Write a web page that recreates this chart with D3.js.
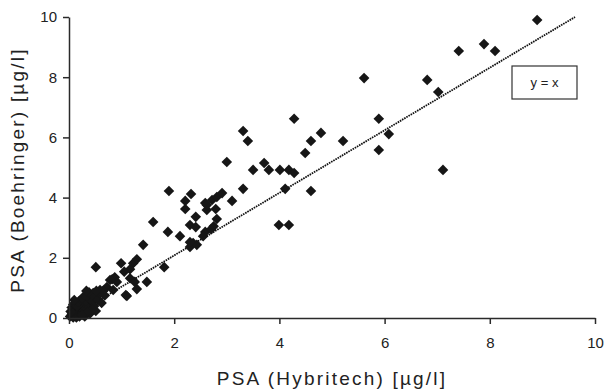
<!DOCTYPE html>
<html>
<head>
<meta charset="utf-8">
<script src="https://cdn.jsdelivr.net/npm/d3@7"></script>
<style>
  body { margin: 0; background: #fff; }
  svg { display: block; font-family: "Liberation Sans", Arial, sans-serif; }
</style>
</head>
<body>
<div id="chart"></div>
<script>
// PSA values measured with the Hybritech assay (x) and the Boehringer assay (y)
const hybritech = [
  8.90, 7.41, 7.89, 8.10, 7.02, 5.61, 6.81, 4.28, 5.89, 6.08, 5.89, 4.79, 4.60, 5.21, 4.49,
  3.71, 3.80, 4.01, 4.18, 4.28, 4.11, 4.60, 7.11, 3.99, 4.18, 3.31, 3.40, 3.00, 3.50, 3.31,
  3.10, 1.90, 2.32, 2.21, 2.21, 2.59, 2.72, 2.81, 2.91, 2.62, 2.79, 2.62, 2.41, 2.81, 1.60,
  2.30, 2.41, 2.59, 2.55, 2.36, 2.30, 2.43, 1.88, 2.11, 2.30, 1.41, 2.70, 2.75,
  0.51, 0.99, 1.22, 1.29, 1.16, 1.05, 1.81, 0.82, 0.87, 0.91, 1.16, 1.25, 1.48, 1.29, 1.10,
  0.72, 0.59, 0.46, 0.36, 0.27, 0.51, 0.30, 0.78, 0.84, 1.08,
  0.02, 0.05, 0.08, 0.10, 0.12, 0.15, 0.18, 0.20, 0.22, 0.25, 0.28, 0.30, 0.05, 0.08, 0.03,
  0.12, 0.15, 0.18, 0.22, 0.26, 0.32, 0.35, 0.38, 0.40, 0.42, 0.45, 0.48, 0.50, 0.55, 0.58,
  0.60, 0.62, 0.65, 0.40, 0.45, 0.35, 0.10, 0.06, 0.14, 0.20, 0.25, 0.38, 0.52, 0.68, 0.33
];
const boehringer = [
  9.90, 8.87, 9.10, 8.87, 7.51, 7.97, 7.91, 6.62, 6.62, 6.11, 5.58, 6.15, 5.88, 5.88, 5.48,
  5.15, 4.92, 4.92, 4.92, 4.82, 4.29, 4.22, 4.92, 3.09, 3.09, 6.21, 5.88, 5.18, 4.92, 4.29,
  3.89, 4.22, 4.12, 3.89, 3.62, 3.82, 3.92, 4.02, 4.15, 3.59, 3.62, 3.75, 3.36, 3.29, 3.19,
  3.09, 3.02, 2.86, 2.72, 2.49, 2.36, 2.43, 2.86, 2.72, 2.52, 2.43, 2.95, 3.05,
  1.69, 1.82, 1.82, 1.95, 1.62, 1.54, 1.69, 1.29, 1.35, 1.20, 1.32, 1.20, 1.20, 0.96, 0.73,
  1.03, 0.93, 0.83, 0.80, 0.70, 0.23, 0.60, 1.26, 0.93, 0.76,
  0.05, 0.10, 0.02, 0.15, 0.30, 0.08, 0.20, 0.35, 0.12, 0.45, 0.25, 0.05, 0.35, 0.45, 0.22,
  0.50, 0.40, 0.55, 0.60, 0.65, 0.70, 0.50, 0.35, 0.62, 0.75, 0.55, 0.40, 0.70, 0.60, 0.80,
  0.85, 0.50, 0.90, 0.15, 0.28, 0.20, 0.60, 0.15, 0.02, 0.05, 0.10, 0.85, 0.90, 0.75, 0.90
];
const trendX = [0, 9.62];
const trendY = [0, 10];
const xTicks = [0, 2, 4, 6, 8, 10];
const yTicks = [0, 2, 4, 6, 8, 10];
const legendText = 'y = x';
const xTitle = 'PSA (Hybritech) [µg/l]';
const yTitle = 'PSA (Boehringer) [µg/l]';

const width = 608;
const height = 392;

const svg = d3.select('#chart')
  .append('svg')
  .attr('width', width)
  .attr('height', height);

const xScale = d3.scaleLinear().domain([0, 10]).range([69, 595]);
const yScale = d3.scaleLinear().domain([0, 10]).range([318, 17]);

const axisColor = '#2a2a2a';

// trend line
const trend = trendX.map((x, i) => [x, trendY[i]]);
svg.append('path')
  .attr('d', d3.line().x(d => xScale(d[0])).y(d => yScale(d[1]))(trend))
  .attr('fill', 'none')
  .attr('stroke', '#111')
  .attr('stroke-width', 1.8)
  .attr('stroke-dasharray', '1.6,0.9');

// points
const points = hybritech.map((x, i) => ({ x, y: boehringer[i] }));
const diamond = d3.symbol().type(d3.symbolSquare).size(56);
svg.append('g')
  .attr('fill', '#161616')
  .selectAll('path')
  .data(points)
  .join('path')
  .attr('d', diamond)
  .attr('transform', d => `translate(${xScale(d.x)},${yScale(d.y)}) rotate(45)`);

// axes
const xAxis = svg.append('g')
  .attr('transform', `translate(0,${yScale(0)})`)
  .call(d3.axisBottom(xScale).tickValues(xTicks).tickSize(6).tickSizeOuter(0).tickPadding(13));

const yAxis = svg.append('g')
  .attr('transform', `translate(${xScale(0)},0)`)
  .call(d3.axisLeft(yScale).tickValues(yTicks).tickSize(6).tickSizeOuter(0).tickPadding(6));

[xAxis, yAxis].forEach(g => {
  g.select('.domain').attr('stroke', axisColor).attr('stroke-width', 1.5);
  g.selectAll('.tick line').attr('stroke', axisColor).attr('stroke-width', 1.5);
  g.selectAll('.tick text')
    .attr('fill', '#222')
    .style('font-size', '15px')
    .style('font-family', '"Liberation Sans", Arial, sans-serif');
});

// legend box
const box = { x: 512, y: 66, w: 65, h: 33 };
svg.append('rect')
  .attr('x', box.x)
  .attr('y', box.y)
  .attr('width', box.w)
  .attr('height', box.h)
  .attr('fill', '#fff')
  .attr('stroke', '#333')
  .attr('stroke-width', 1.2);
svg.append('text')
  .attr('x', box.x + box.w / 2)
  .attr('y', box.y + box.h / 2 + 4)
  .attr('text-anchor', 'middle')
  .attr('fill', '#222')
  .style('font-size', '13px')
  .text(legendText);

// axis titles
svg.append('text')
  .attr('x', 332)
  .attr('y', 385)
  .attr('text-anchor', 'middle')
  .attr('fill', '#222')
  .style('font-size', '19px')
  .style('letter-spacing', '2.2px')
  .text(xTitle);

svg.append('text')
  .attr('transform', `translate(24,170) rotate(-90)`)
  .attr('text-anchor', 'middle')
  .attr('fill', '#222')
  .style('font-size', '19px')
  .style('letter-spacing', '2.2px')
  .text(yTitle);
</script>
</body>
</html>
